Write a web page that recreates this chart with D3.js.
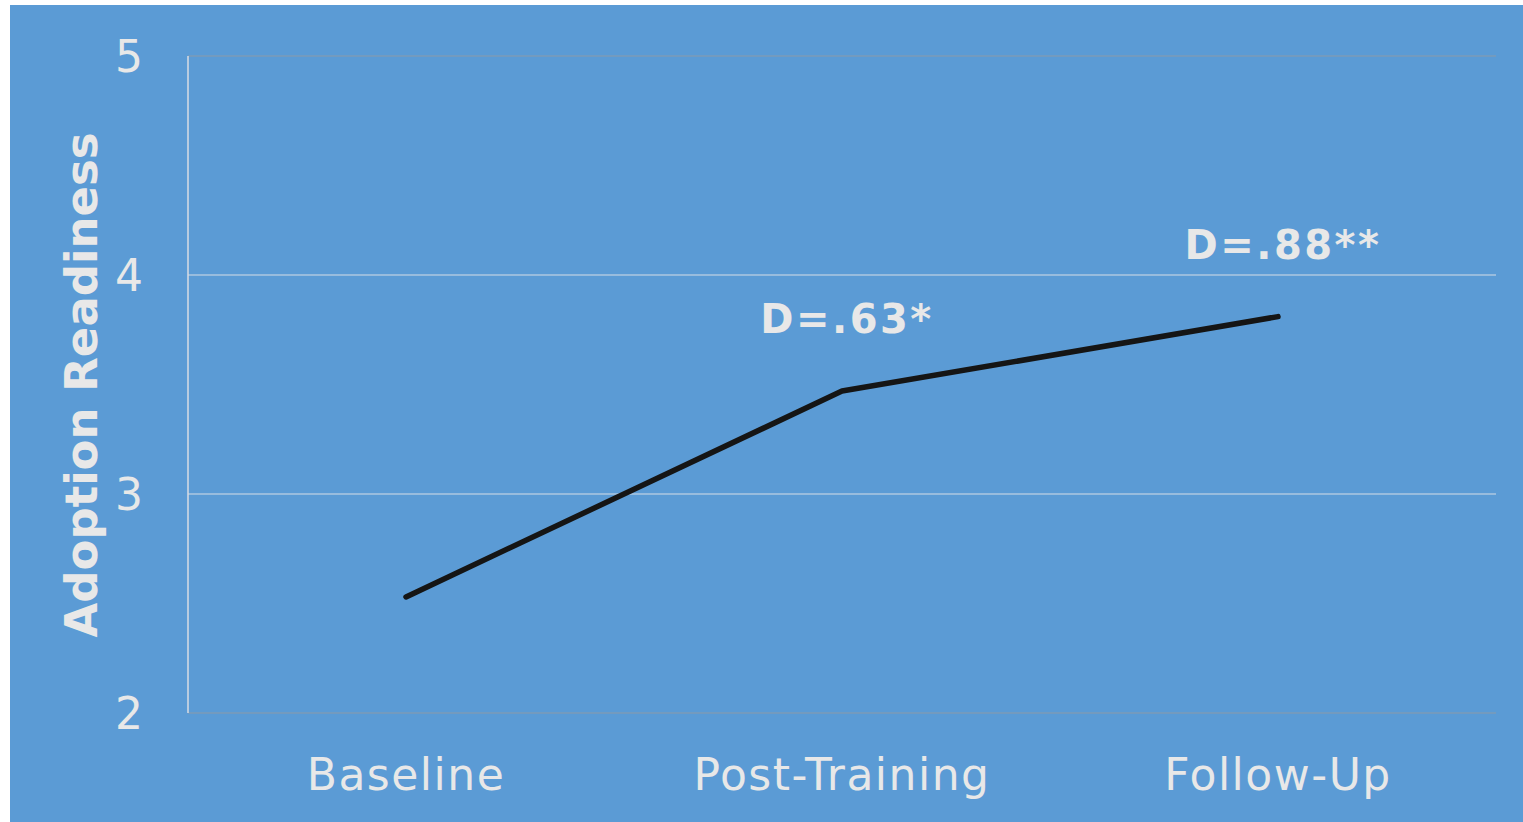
<!DOCTYPE html>
<html>
<head>
<meta charset="utf-8">
<script src="https://cdn.jsdelivr.net/npm/d3@7"></script>
<style>
  html, body { margin: 0; padding: 0; background: #ffffff; }
  svg { display: block; }
</style>
</head>
<body>
<svg id="chart" width="1523" height="822"></svg>
<script>
// Adoption readiness across three measurement points
const categories = ["Baseline", "Post-Training", "Follow-Up"];
const readiness = [2.53, 3.47, 3.81];
const effectLabels = [null, "D=.63*", "D=.88**"];
const yTicks = [2, 3, 4, 5];

const W = 1523, H = 822;
const margin = { left: 188, right: 27, top: 56, bottom: 109 };

const svg = d3.select("#chart");

// panel background
svg.append("rect")
  .attr("x", 10).attr("y", 5)
  .attr("width", W - 10).attr("height", H - 5)
  .attr("fill", "#5b9bd5");

const x = d3.scaleBand()
  .domain(categories)
  .range([margin.left, W - margin.right]);

const y = d3.scaleLinear()
  .domain([2, 5])
  .range([H - margin.bottom, margin.top]);

// horizontal gridlines
svg.append("g")
  .selectAll("line")
  .data(yTicks)
  .join("line")
  .attr("x1", margin.left)
  .attr("x2", W - margin.right)
  .attr("y1", d => y(d))
  .attr("y2", d => y(d))
  .attr("stroke", d => (d === 2 || d === 5) ? "#8c9aa8" : "#d6dde6")
  .attr("stroke-width", 1);

// left axis line
svg.append("line")
  .attr("x1", margin.left).attr("x2", margin.left)
  .attr("y1", y(5)).attr("y2", y(2))
  .attr("stroke", "#d8dde3").attr("stroke-width", 1.5);

// y tick labels
svg.append("g")
  .selectAll("text")
  .data(yTicks)
  .join("text")
  .attr("x", 143)
  .attr("y", d => y(d))
  .attr("dy", "0.36em")
  .attr("text-anchor", "end")
  .attr("font-family", "DejaVu Sans, sans-serif")
  .attr("font-size", 44)
  .attr("fill", "#e8e8e8")
  .text(d => d);

// category labels
svg.append("g")
  .selectAll("text")
  .data(categories)
  .join("text")
  .attr("x", d => x(d) + x.bandwidth() / 2)
  .attr("y", 790)
  .attr("text-anchor", "middle")
  .attr("font-family", "DejaVu Sans, sans-serif")
  .attr("font-size", 44)
  .attr("letter-spacing", 1.5)
  .attr("fill", "#e8e8e8")
  .text(d => d);

// y axis title
svg.append("text")
  .attr("transform", "translate(97,385) rotate(-90)")
  .attr("text-anchor", "middle")
  .attr("font-family", "DejaVu Sans, sans-serif")
  .attr("font-weight", "bold")
  .attr("font-size", 45)
  .attr("fill", "#e8e8e8")
  .text("Adoption Readiness");

// readiness line
const line = d3.line()
  .x((d, i) => x(categories[i]) + x.bandwidth() / 2)
  .y(d => y(d));

svg.append("path")
  .datum(readiness)
  .attr("d", line)
  .attr("fill", "none")
  .attr("stroke", "#151515")
  .attr("stroke-width", 5.5)
  .attr("stroke-linecap", "round")
  .attr("stroke-linejoin", "round");

// effect size annotations
svg.append("g")
  .selectAll("text")
  .data(categories.map((c, i) => ({ c, v: readiness[i], label: effectLabels[i] })).filter(d => d.label))
  .join("text")
  .attr("x", d => x(d.c) + x.bandwidth() / 2 + 5)
  .attr("y", d => y(d.v) - 58)
  .attr("text-anchor", "middle")
  .attr("font-family", "DejaVu Sans, sans-serif")
  .attr("font-weight", "bold")
  .attr("font-size", 40)
  .attr("letter-spacing", 2.5)
  .attr("fill", "#e8e8e8")
  .text(d => d.label);
</script>
</body>
</html>
